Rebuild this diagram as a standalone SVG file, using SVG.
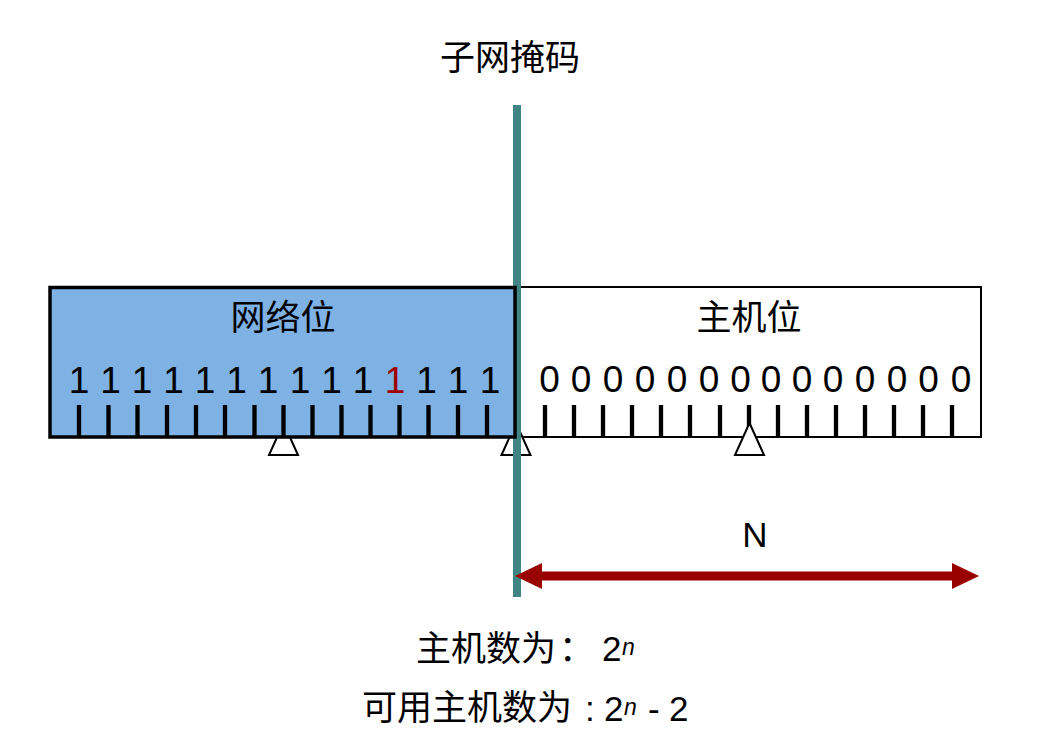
<svg xmlns="http://www.w3.org/2000/svg" width="1059" height="751" viewBox="0 0 1059 751">
<style>
text{font-family:"Liberation Sans","Noto Sans CJK SC",sans-serif;fill:#000}
.big{font-size:35px;text-anchor:middle}
.dig{font-size:37px;text-anchor:middle}
.tick{stroke:#000;stroke-width:4.3}
.tri{fill:#fff;stroke:#000;stroke-width:2}
.bot{font-size:35px}
.sup{font-size:23px;font-style:italic}
</style>
<rect width="1059" height="751" fill="#fff"/>
<g id="title"><text class="big" x="510" y="70">子网掩码</text></g>
<g id="host-bits">
<rect x="515" y="287" width="466" height="150" fill="#fff" stroke="#000" stroke-width="2"/>
<text class="big" x="749" y="330">主机位</text>
<text class="dig" x="549.5" y="392">0</text><text class="dig" x="581" y="392">0</text><text class="dig" x="613" y="392">0</text><text class="dig" x="645" y="392">0</text><text class="dig" x="677" y="392">0</text><text class="dig" x="709" y="392">0</text><text class="dig" x="740.5" y="392">0</text><text class="dig" x="771" y="392">0</text><text class="dig" x="802" y="392">0</text><text class="dig" x="833" y="392">0</text><text class="dig" x="865" y="392">0</text><text class="dig" x="897" y="392">0</text><text class="dig" x="928.5" y="392">0</text><text class="dig" x="961" y="392">0</text>
<path class="tick" d="M545 405V437M574 405V437M603 405V437M632 405V437M661 405V437M690 405V437M720 405V437M749 405V437M778 405V437M807 405V437M836 405V437M865 405V437M894 405V437M923 405V437M952 405V437"/>
</g>
<g id="markers">
<polygon class="tri" points="283.5,423 269,455 298,455"/>
<polygon class="tri" points="516,423 501.5,455 530.5,455"/>
<polygon class="tri" points="749.5,423 735,455 764,455"/>
</g>
<g id="mask-line"><rect x="513" y="105" width="8" height="492" fill="#408584"/></g>
<g id="network-bits">
<rect x="50" y="287.5" width="465" height="149.5" fill="#7EB1E4" stroke="#000" stroke-width="3.5"/>
<text class="big" x="283" y="330">网络位</text>
<text class="dig" x="79" y="393">1</text><text class="dig" x="110.5" y="393">1</text><text class="dig" x="142" y="393">1</text><text class="dig" x="173.5" y="393">1</text><text class="dig" x="205" y="393">1</text><text class="dig" x="236.5" y="393">1</text><text class="dig" x="268" y="393">1</text><text class="dig" x="300" y="393">1</text><text class="dig" x="331.5" y="393">1</text><text class="dig" x="363" y="393">1</text><text class="dig" x="395" y="393" style="fill:#A00000">1</text><text class="dig" x="426.5" y="393">1</text><text class="dig" x="458" y="393">1</text><text class="dig" x="490" y="393">1</text>
<path class="tick" d="M79 405V436M108.5 405V436M137.5 405V436M167 405V436M196 405V436M225 405V436M254.5 405V436M283.5 405V436M312.5 405V436M341.5 405V436M370.5 405V436M399.5 405V436M428.5 405V436M458 405V436M487 405V436"/>
</g>
<g id="connectors">
<line x1="540" y1="576" x2="954" y2="576" stroke="#990000" stroke-width="9"/>
<polygon points="515,576 542,563 542,589" fill="#990000"/>
<polygon points="979,576 952,563 952,589" fill="#990000"/>
<text class="big" x="755" y="547">N</text>
</g>
<g id="formulas">
<text class="bot" x="416" y="661">主机数为</text>
<text class="bot" x="559" y="661">：</text>
<text class="bot" x="602" y="661">2</text>
<text class="sup" x="622" y="655">n</text>
<text class="bot" x="362" y="720">可用主机数为</text>
<text class="bot" x="585" y="721">:</text>
<text class="bot" x="604" y="721">2</text>
<text class="sup" x="624" y="715">n</text>
<text class="bot" x="648" y="721">-</text>
<text class="bot" x="669" y="721">2</text>
</g>
</svg>
